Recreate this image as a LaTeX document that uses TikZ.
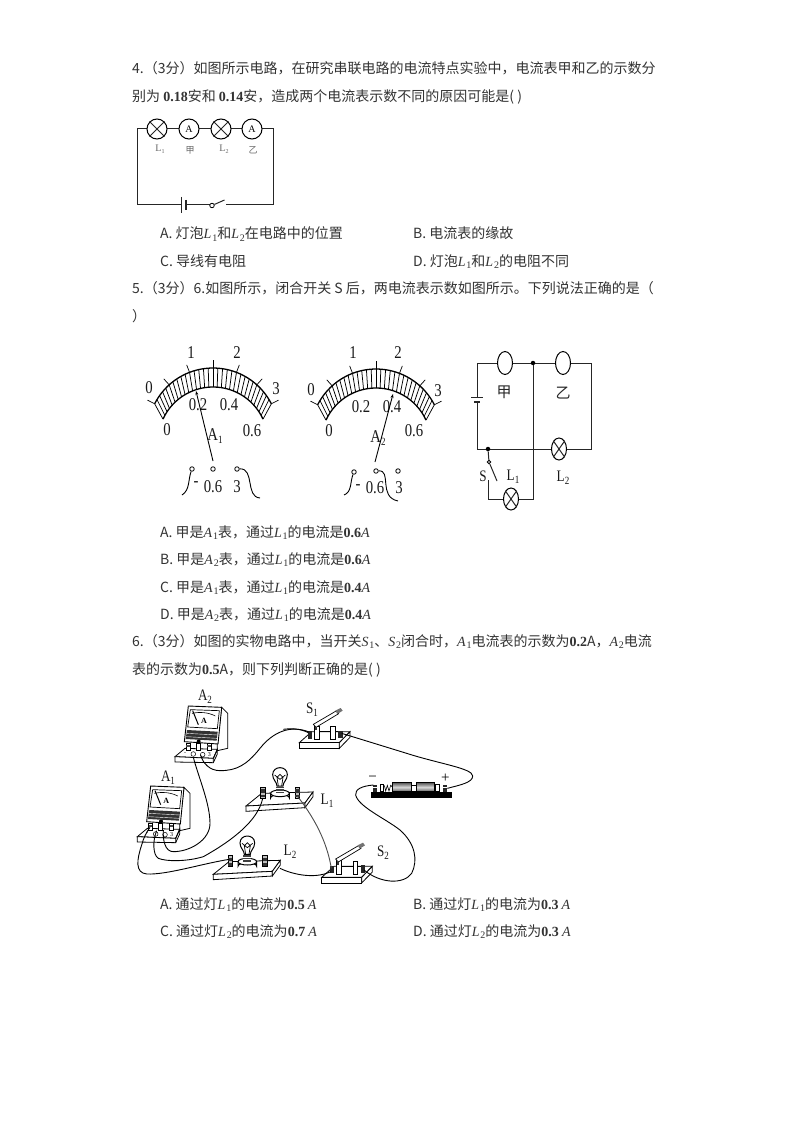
\documentclass[tikz,border=0pt]{standalone}
\usepackage{fontspec}
\usetikzlibrary{arrows.meta,shapes.geometric}
\setmainfont{Noto Sans CJK SC}
\newfontfamily\lat{Liberation Serif}
\newfontfamily\mnum[FakeStretch=0.82]{Liberation Serif}
\newcommand{\fs}[1]{\fontsize{#1}{#1}\selectfont}
\newcommand{\Mv}[2]{{\lat\itshape #1\kern.8pt\raisebox{-2pt}{\upshape\fs{10}#2}}}
\newcommand{\Bn}[1]{{\lat\bfseries #1}}
\newcommand{\Ia}{{\lat\itshape A}}
\newcommand{\Lb}[2]{{\mnum #1\raisebox{-3pt}{\fs{11}#2}}}
\newcommand{\dialshape}{%
  \draw[line width=1.3pt] plot[domain=-63:63,samples=40] ({65.5*sin(\x)},{65.5-65.5*cos(\x)});
  \draw[line width=1.3pt] plot[domain=-65.4:65.4,samples=40] ({55*sin(\x)},{74-55*cos(\x)});
  \foreach \i in {-15,...,15}{
    \draw[line width=.75pt] ({65.5*sin(\i*4.2)},{65.5-65.5*cos(\i*4.2)}) -- ({55*sin(\i*4.36)},{74-55*cos(\i*4.36)});}
  \foreach \i in {-15,-10,-5,0,5,10,15}{
    \draw[line width=.7pt] ({73.5*sin(\i*4.2)},{65.5-73.5*cos(\i*4.2)}) -- ({65.5*sin(\i*4.2)},{65.5-65.5*cos(\i*4.2)});}
}
\newcommand{\physmeter}[2]{%
\begin{scope}[shift={(#1,#2)}]
  \draw[line width=.8pt,fill=white] (275,82) -- (293,100) -- (293,205) -- (262,212) -- (262,190) -- cycle;
  \draw[line width=.8pt,fill=white] (165,205) -- (262,208) -- (250,235) -- (135,230) -- cycle;
  \draw[line width=.8pt,fill=white] (135,230) -- (250,235) -- (250,248) -- (135,246) -- cycle;
  \draw[line width=.8pt] (250,235) -- (262,208) -- (262,222) -- (250,248);
  \draw[line width=.9pt,fill=white] (175,78) -- (275,82) -- (264,192) -- (163,185) -- cycle;
  \draw[line width=.7pt,fill=white] (181,89) -- (268,92) -- (262,146) -- (173,141) -- cycle;
  \fill[black!80] (171,150) -- (263,155) -- (260,182) -- (167,177) -- cycle;
  \draw[white,line width=.4pt] (170,160) -- (262,165) (169,170) -- (261,175);
  \draw[line width=.6pt] (186,100) .. controls (210,95) and (235,97) .. (256,108);
  \draw[line width=1pt] (188,92) -- (205,134);
  \node[font=\lat\bfseries\fs{8}] (mA#1) at (222,122) {A};
  \draw[fill=white,line width=.5pt] (169,190) rectangle (180,212);
  \fill[black!70] (169,194) rectangle (180,200);
  \draw[fill=white,line width=.5pt] (199,190) rectangle (210,212);
  \draw[fill=white,line width=.5pt] (232,190) rectangle (243,212);
  \fill[black!70] (232,194) rectangle (243,200);
  \fill (206,184) circle (6);
  \node[font=\lat\fs{6}] (mB#1) at (165,222) {-};
  \node[font=\lat\fs{6}] (mC#1) at (238,224) {3};
  \draw[line width=.5pt] (190,222) circle (7) (218,224) circle (7);
\end{scope}}
\newcommand{\lampboard}[2]{%
\begin{scope}[shift={(#1,#2)}]
  \draw[line width=.8pt,fill=white] (395,340) -- (549,336) -- (525,369) -- (348,378) -- cycle;
  \draw[line width=.8pt,fill=white] (348,378) -- (525,369) -- (525,383) -- (348,394) -- cycle;
  \draw[line width=.8pt,fill=white] (525,369) -- (549,336) -- (549,350) -- (525,383) -- cycle;
  \draw[line width=1pt,fill=white] (422,340) -- (422,354) arc[start angle=180,end angle=360,x radius=28,y radius=11] -- (478,340) -- cycle;
  \draw[line width=1pt,fill=white] (450,340) ellipse[x radius=28,y radius=10];
  \fill[black!75] (438,320) rectangle (462,340);
  \draw[white,line width=.5pt] (438,326) -- (462,326) (438,333) -- (462,333);
  \draw[line width=1pt,fill=white] (441,318) .. controls (441,306) and (428,300) .. (428,284) .. controls (428,256) and (472,256) .. (472,284) .. controls (472,300) and (459,306) .. (459,318) -- cycle;
  \draw[line width=.7pt] (445,318) -- (441,292) -- (450,283) -- (459,292) -- (455,318) (434,285) -- (450,298) -- (466,285);
  \draw[fill=black!25,line width=.5pt] (392,322) rectangle (405,355);
  \fill[black!80] (392,328) rectangle (405,338);
  \fill[black!80] (392,344) rectangle (405,352);
  \draw[fill=black!25,line width=.5pt] (496,322) rectangle (509,355);
  \fill[black!80] (496,328) rectangle (509,338);
  \fill[black!80] (496,344) rectangle (509,352);
\end{scope}}
\newcommand{\knife}[2]{%
\begin{scope}[shift={(#1,#2)}]
  \draw[line width=.8pt,fill=white] (28,158) -- (65,125) -- (180,125) -- (148,158) -- cycle;
  \draw[line width=.8pt,fill=white] (28,158) rectangle (148,175);
  \draw[line width=.8pt,fill=white] (148,158) -- (180,125) -- (180,142) -- (148,175) -- cycle;
  \draw[line width=.7pt] (85,125) -- (122,125) (136,125) -- (146,125);
  \draw[line width=.7pt,fill=white] (122,110) rectangle (136,148);
  \fill[black!85] (53,124) rectangle (65,146);
  \fill[black!85] (145,122) rectangle (158,144);
  \draw[line width=.7pt,fill=white] (72,108) -- (88,108) -- (88,148) -- (72,148) -- cycle;
  \draw[line width=.7pt,fill=white] (70,103) -- (140,62) -- (146,71) -- (78,112) -- cycle;
  \fill[black!55] (136,62) -- (152,54) -- (158,62) -- (142,72) -- cycle;
  \fill[black!80] (74,112) rectangle (80,120);
\end{scope}}
\begin{document}
\begin{tikzpicture}[x=1pt,y=-1pt,
  txt/.style={anchor=base west,inner sep=0pt,font=\fs{14},text=black!80},
  mlab/.style={inner sep=0pt,font=\mnum\fs{18},text=black!90},
  lbl/.style={inner sep=0pt,font=\mnum\fs{16},text=black!90},
  wire/.style={line width=1pt,black!85},
  dot/.style={circle,fill=black,inner sep=0pt,minimum size=4.5pt},
  term/.style={circle,draw,fill=white,inner sep=0pt,minimum size=4.5pt,line width=.8pt},
  lamp/.style={ellipse,draw,line width=1pt,fill=white,inner sep=0pt},
  curve/.style={line width=.9pt,black}]
\useasboundingbox (0,0) rectangle (794,1123);
\fill[white] (0,0) rectangle (794,1123);
% text
\node[txt] (t1) at (132,74) {4.（3分）如图所示电路，在研究串联电路的电流特点实验中，电流表甲和乙的示数分};
\node[txt] (t2) at (132,102) {别为 \Bn{0.18}安和 \Bn{0.14}安，造成两个电流表示数不同的原因可能是( )};
\node[txt] (t3) at (160,239) {A. 灯泡\Mv{L}{1}和\Mv{L}{2}在电路中的位置};
\node[txt] (t4) at (413,239) {B. 电流表的缘故};
\node[txt] (t5) at (160,266) {C. 导线有电阻};
\node[txt] (t6) at (413,266) {D. 灯泡\Mv{L}{1}和\Mv{L}{2}的电阻不同};
\node[txt] (t7) at (132,293) {5.（3分）6.如图所示，闭合开关 S 后，两电流表示数如图所示。下列说法正确的是（};
\node[txt] (t8) at (132,321) {）};
\node[txt] (t9) at (160,537) {A. 甲是\Mv{A}{1}表，通过\Mv{L}{1}的电流是\Bn{0.6}\Ia};
\node[txt] (t10) at (160,564) {B. 甲是\Mv{A}{2}表，通过\Mv{L}{1}的电流是\Bn{0.6}\Ia};
\node[txt] (t11) at (160,592) {C. 甲是\Mv{A}{1}表，通过\Mv{L}{1}的电流是\Bn{0.4}\Ia};
\node[txt] (t12) at (160,619) {D. 甲是\Mv{A}{2}表，通过\Mv{L}{1}的电流是\Bn{0.4}\Ia};
\node[txt] (t13) at (132,646) {6.（3分）如图的实物电路中，当开关\Mv{S}{1}、\Mv{S}{2}闭合时，\Mv{A}{1}电流表的示数为\Bn{0.2}A，\Mv{A}{2}电流};
\node[txt] (t14) at (132,674) {表的示数为\Bn{0.5}A，则下列判断正确的是( )};
\node[txt] (t15) at (160,909) {A. 通过灯\Mv{L}{1}的电流为\Bn{0.5} \Ia};
\node[txt] (t16) at (413,909) {B. 通过灯\Mv{L}{1}的电流为\Bn{0.3} \Ia};
\node[txt] (t17) at (160,936) {C. 通过灯\Mv{L}{2}的电流为\Bn{0.7} \Ia};
\node[txt] (t18) at (413,936) {D. 通过灯\Mv{L}{2}的电流为\Bn{0.3} \Ia};
% circuit 1
\coordinate (a1) at (137,129); \coordinate (a2) at (273,129);
\coordinate (a3) at (273,205); \coordinate (a4) at (137,205);
\draw[wire] (a4) -- (a1) -- (a2) -- (a3) -- (225.5,205);
\draw[wire] (a4) -- (181,205) (186,205) -- (210,205);
\draw[wire] (181,197) -- (181,213);
\draw[wire,line width=1.6pt] (186,200) -- (186,210);
\node[term] (sw) at (212,205.5) {};
\draw[wire] (sw) -- (224.5,200);
\node[lamp,minimum size=20pt] (L1a) at (157,129) {};
\draw[wire] (L1a.north west) -- (L1a.south east) (L1a.north east) -- (L1a.south west);
\node[lamp,minimum size=20pt] (Aa) at (189,129) {\lat\fs{10}A};
\node[lamp,minimum size=20pt] (L2a) at (221,129) {};
\draw[wire] (L2a.north west) -- (L2a.south east) (L2a.north east) -- (L2a.south west);
\node[lamp,minimum size=20pt] (Ab) at (252,129) {\lat\fs{10}A};
\node[inner sep=0,font=\lat\fs{10},text=black!60] (la) at (160,149) {L\raisebox{-2pt}{\fs{6}1}};
\node[inner sep=0,font=\fs{9},text=black!60] (lb) at (190,150) {甲};
\node[inner sep=0,font=\lat\fs{10},text=black!60] (lc) at (224,149) {L\raisebox{-2pt}{\fs{6}2}};
\node[inner sep=0,font=\fs{9},text=black!60] (ld) at (253,150) {乙};
% meter 1
\begin{scope}[shift={(213,368)}] \dialshape \end{scope}
\begin{scope}[shift={(376,369)}] \dialshape \end{scope}
\node[mlab] (m1) at (149,388) {0}; \node[mlab] (m2) at (191,353) {1};
\node[mlab] (m3) at (237,353) {2}; \node[mlab] (m4) at (276,389) {3};
\node[mlab] (m5) at (198,405) {0.2}; \node[mlab] (m6) at (229,405) {0.4};
\node[mlab] (m7) at (167,430) {0}; \node[mlab] (m8) at (252,431) {0.6};
\node[mlab] (m9) at (215,436) {\Lb{A}{1}};
\coordinate (n1) at (213,461); \coordinate (n1t) at (196,391);
\draw[line width=.9pt,-{Stealth[length=4pt,width=3pt]}] (n1) -- (n1t);
\node[term] (t1a) at (192,469) {}; \node[term] (t1b) at (213,469) {}; \node[term] (t1c) at (237,469) {};
\node[mlab] (m10) at (196,484) {-}; \node[mlab] (m11) at (213,487) {0.6}; \node[mlab] (m12) at (237,487) {3};
\coordinate (e1a) at (182,495); \coordinate (e1c) at (260,498);
\draw[curve] (t1a) .. controls (188,480) and (190,490) .. (e1a);
\draw[curve] (t1c) .. controls (255,468) and (245,497) .. (e1c);
% meter 2
\node[mlab] (p1) at (311,390) {0}; \node[mlab] (p2) at (353,353) {1};
\node[mlab] (p3) at (398,353) {2}; \node[mlab] (p4) at (438,391) {3};
\node[mlab] (p5) at (361,407) {0.2}; \node[mlab] (p6) at (392,407) {0.4};
\node[mlab] (p7) at (329,431) {0}; \node[mlab] (p8) at (414,431) {0.6};
\node[mlab] (p9) at (378,438) {\Lb{A}{2}};
\coordinate (n2) at (375,462); \coordinate (n2t) at (393,394);
\draw[line width=.9pt,-{Stealth[length=4pt,width=3pt]}] (n2) -- (n2t);
\node[term] (t2a) at (354,472) {}; \node[term] (t2b) at (376,471) {}; \node[term] (t2c) at (398,471) {};
\node[mlab] (p10) at (358,487) {-}; \node[mlab] (p11) at (375,488) {0.6}; \node[mlab] (p12) at (399,488) {3};
\coordinate (e2a) at (344,495); \coordinate (e2b) at (398,501);
\draw[curve] (t2a) .. controls (350,482) and (352,492) .. (e2a);
\draw[curve] (t2b) .. controls (392,470) and (378,497) .. (e2b);
% circuit 3
\coordinate (c1) at (477,363); \coordinate (c2) at (591,363); \coordinate (c3) at (591,449);
\coordinate (c4) at (477,449); \coordinate (c5) at (533,499); \coordinate (c6) at (488,499);
\coordinate (c7) at (488,480);
\draw[wire] (477,397) -- (c1) -- (c2) -- (c3) -- (c4) -- (477,402);
\draw[wire] (471,397) -- (483,397);
\draw[wire,line width=1.8pt] (474,402) -- (480,402);
\node[dot] (j1) at (533,363) {}; \node[dot] (j2) at (488,449) {};
\draw[wire] (j1) -- (c5) -- (c6) -- (c7);
\node[term,minimum size=3.5pt] (ss) at (489,462) {};
\draw[wire] (j2) -- (ss) -- (497,481);
\node[lamp,minimum width=15pt,minimum height=23pt] (amp1) at (505,363) {};
\node[lamp,minimum width=15pt,minimum height=23pt] (amp2) at (563,363) {};
\node[lamp,minimum width=15pt,minimum height=22pt] (L2c) at (559,449) {};
\draw[wire] (L2c.north west) -- (L2c.south east) (L2c.north east) -- (L2c.south west);
\node[lamp,minimum width=15pt,minimum height=22pt] (L1c) at (511,499) {};
\draw[wire] (L1c.north west) -- (L1c.south east) (L1c.north east) -- (L1c.south west);
\node[inner sep=0,font=\fs{15},text=black!85] (k1) at (504,392) {甲};
\node[inner sep=0,font=\fs{15},text=black!85] (k2) at (563,393) {乙};
\node[lbl] (k3) at (483,476) {S};
\node[lbl] (k4) at (513,477) {\Lb{L}{1}};
\node[lbl] (k5) at (563,478) {\Lb{L}{2}};
% physical circuit: frames read at 3x from offsets
\begin{scope}[shift={(130,680)},x=0.33333pt,y=-0.33333pt]
  \physmeter{0}{0}
  \physmeter{-113}{240}
  \lampboard{0}{0}
  \lampboard{-98}{205}
\end{scope}
\begin{scope}[shift={(290,690)},x=0.33333pt,y=-0.33333pt]
  \knife{0}{0}
  \knife{67}{404}
  % battery
  \fill[black] (242,305) rectangle (485,325);
  \shade[top color=black!65,bottom color=black!65,middle color=black!15] (308,278) rectangle (365,305);
  \shade[top color=black!65,bottom color=black!65,middle color=black!15] (378,278) rectangle (432,305);
  \draw[line width=.5pt] (308,278) rectangle (365,305) (378,278) rectangle (432,305);
  \draw[line width=.5pt,fill=white] (365,285) rectangle (378,305);
  \draw[line width=.5pt,fill=white] (437,282) rectangle (448,305);
  \draw[line width=.5pt,fill=white] (270,282) rectangle (280,305);
  \draw[line width=.6pt] (283,286) -- (287,303) -- (292,286) -- (297,303) -- (302,286) -- (306,290);
  \fill[black!85] (250,285) rectangle (262,305);
  \fill[black!85] (460,285) rectangle (472,305);
  \draw[white,line width=.5pt] (250,292) -- (262,292) (460,292) -- (472,292);
  \node[font=\lat\fs{15},inner sep=0] (bm) at (248,267) {−};
  \node[font=\lat\fs{15},inner sep=0] (bp) at (466,265) {+};
\end{scope}
% wires
\begin{scope}[shift={(130,680)},x=0.33333pt,y=-0.33333pt]
  \draw[curve] (535,155) .. controls (480,135) and (430,155) .. (390,205) .. controls (350,255) and (320,272) .. (270,272) .. controls (240,272) and (218,250) .. (212,225);
  \draw[curve] (190,232) .. controls (205,290) and (240,370) .. (240,430) .. controls (240,480) and (180,515) .. (130,515) .. controls (105,515) and (98,480) .. (100,450);
  \draw[curve] (398,355) .. controls (385,420) and (310,480) .. (220,530) .. controls (170,545) and (110,545) .. (85,535) .. controls (68,525) and (68,480) .. (80,452);
  \draw[curve] (298,538) .. controls (220,550) and (110,585) .. (50,582) .. controls (15,578) and (20,540) .. (35,495) .. controls (40,475) and (50,455) .. (60,442);
\end{scope}
\begin{scope}[shift={(290,690)},x=0.33333pt,y=-0.33333pt]
  \draw[curve] (-20,118) .. controls (0,115) and (30,115) .. (55,128);
  \draw[curve,black!70] (22,318) .. controls (70,380) and (110,450) .. (124,535);
  \draw[curve] (-30,535) .. controls (0,550) and (70,570) .. (122,545);
  \draw[curve] (155,130) -- (350,190) .. controls (450,222) and (548,235) .. (548,258) .. controls (548,278) and (510,285) .. (472,295);
  \draw[curve] (250,285) .. controls (215,288) and (195,298) .. (197,315) .. controls (205,350) and (285,385) .. (330,420) .. controls (375,460) and (385,510) .. (365,550) .. controls (340,585) and (270,580) .. (222,540);
\end{scope}
\node[lbl] (x1) at (205,697) {\Lb{A}{2}};
\node[lbl] (x2) at (168,778) {\Lb{A}{1}};
\node[lbl] (x3) at (312,710) {\Lb{S}{1}};
\node[lbl] (x4) at (327,801) {\Lb{L}{1}};
\node[lbl] (x5) at (290,852) {\Lb{L}{2}};
\node[lbl] (x6) at (383,853) {\Lb{S}{2}};
\end{tikzpicture}
\end{document}
